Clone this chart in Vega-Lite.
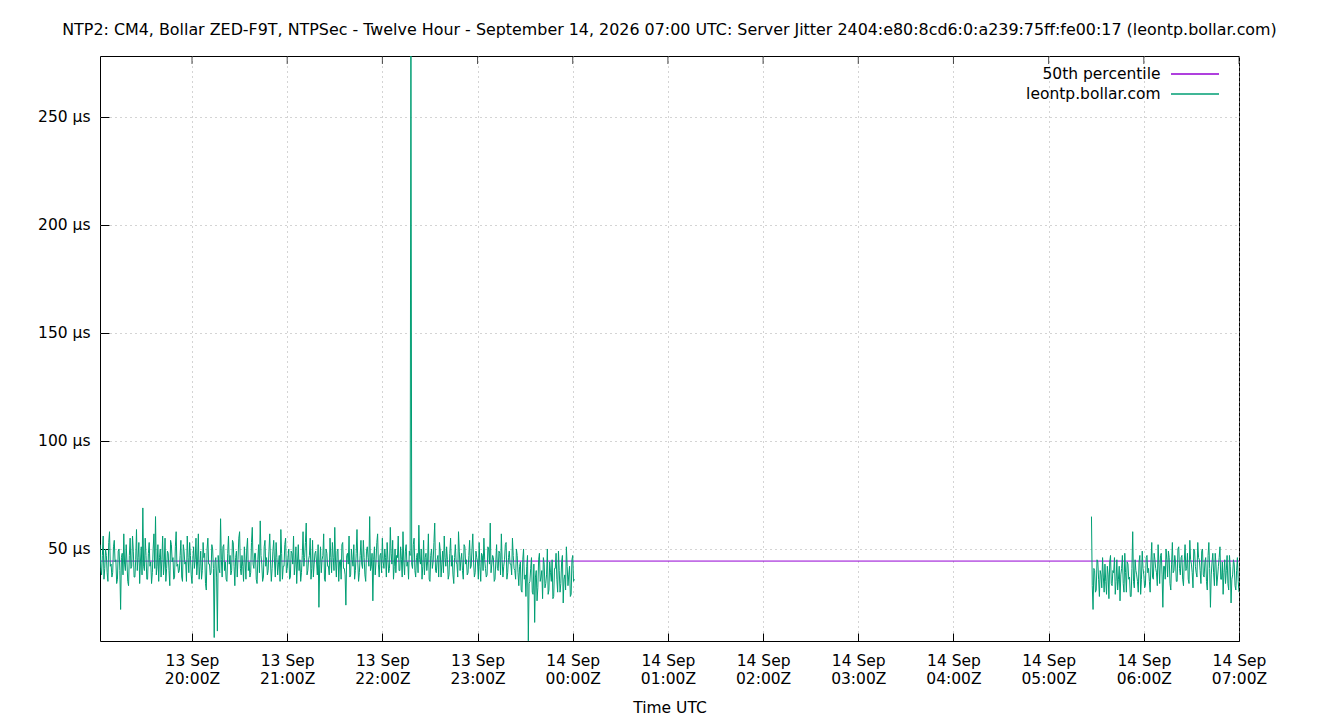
{
  "$schema": "https://vega.github.io/schema/vega-lite/v6.json",
  "width": 1139,
  "height": 585,
  "autosize": "none",
  "padding": {"left": 100, "top": 56, "right": 101, "bottom": 79},
  "background": "white",
  "title": {
    "text": "NTP2: CM4, Bollar ZED-F9T, NTPSec - Twelve Hour - September 14, 2026 07:00 UTC: Server Jitter 2404:e80:8cd6:0:a239:75ff:fe00:17 (leontp.bollar.com)",
    "font": "DejaVu Sans", "fontSize": 15.9, "fontWeight": "normal", "color": "black",
    "anchor": "middle", "offset": 18
  },
  "data": {
    "values": [
      {"s":"50th percentile","g":0,"t":"2026-09-13T19:02:00Z","v":44.4},{"s":"50th percentile","g":0,"t":"2026-09-14T07:00:00Z","v":44.4},
      {"s":"leontp.bollar.com","g":1,"t":"2026-09-13T19:02:00Z","v":52},{"s":"leontp.bollar.com","g":1,"t":"2026-09-13T19:02:30Z","v":41},{"s":"leontp.bollar.com","g":1,"t":"2026-09-13T19:03:00Z","v":38},{"s":"leontp.bollar.com","g":1,"t":"2026-09-13T19:03:30Z","v":47},
      {"s":"leontp.bollar.com","g":1,"t":"2026-09-13T19:04:00Z","v":56},{"s":"leontp.bollar.com","g":1,"t":"2026-09-13T19:04:30Z","v":36},{"s":"leontp.bollar.com","g":1,"t":"2026-09-13T19:05:00Z","v":41},{"s":"leontp.bollar.com","g":1,"t":"2026-09-13T19:05:30Z","v":50},
      {"s":"leontp.bollar.com","g":1,"t":"2026-09-13T19:06:00Z","v":47},{"s":"leontp.bollar.com","g":1,"t":"2026-09-13T19:06:30Z","v":39},{"s":"leontp.bollar.com","g":1,"t":"2026-09-13T19:07:00Z","v":35},{"s":"leontp.bollar.com","g":1,"t":"2026-09-13T19:07:30Z","v":53},
      {"s":"leontp.bollar.com","g":1,"t":"2026-09-13T19:08:00Z","v":58},{"s":"leontp.bollar.com","g":1,"t":"2026-09-13T19:08:30Z","v":42},{"s":"leontp.bollar.com","g":1,"t":"2026-09-13T19:09:00Z","v":43},{"s":"leontp.bollar.com","g":1,"t":"2026-09-13T19:09:30Z","v":37},
      {"s":"leontp.bollar.com","g":1,"t":"2026-09-13T19:10:00Z","v":39},{"s":"leontp.bollar.com","g":1,"t":"2026-09-13T19:10:30Z","v":51},{"s":"leontp.bollar.com","g":1,"t":"2026-09-13T19:11:00Z","v":54},{"s":"leontp.bollar.com","g":1,"t":"2026-09-13T19:11:30Z","v":44},
      {"s":"leontp.bollar.com","g":1,"t":"2026-09-13T19:12:00Z","v":45},{"s":"leontp.bollar.com","g":1,"t":"2026-09-13T19:12:30Z","v":34},{"s":"leontp.bollar.com","g":1,"t":"2026-09-13T19:13:00Z","v":36},{"s":"leontp.bollar.com","g":1,"t":"2026-09-13T19:13:30Z","v":49},
      {"s":"leontp.bollar.com","g":1,"t":"2026-09-13T19:14:00Z","v":50},{"s":"leontp.bollar.com","g":1,"t":"2026-09-13T19:14:30Z","v":40},{"s":"leontp.bollar.com","g":1,"t":"2026-09-13T19:15:00Z","v":22},{"s":"leontp.bollar.com","g":1,"t":"2026-09-13T19:15:30Z","v":46},
      {"s":"leontp.bollar.com","g":1,"t":"2026-09-13T19:16:00Z","v":48},{"s":"leontp.bollar.com","g":1,"t":"2026-09-13T19:16:30Z","v":38},{"s":"leontp.bollar.com","g":1,"t":"2026-09-13T19:17:00Z","v":57},{"s":"leontp.bollar.com","g":1,"t":"2026-09-13T19:17:30Z","v":43},
      {"s":"leontp.bollar.com","g":1,"t":"2026-09-13T19:18:00Z","v":40},{"s":"leontp.bollar.com","g":1,"t":"2026-09-13T19:18:30Z","v":52},{"s":"leontp.bollar.com","g":1,"t":"2026-09-13T19:19:00Z","v":44},{"s":"leontp.bollar.com","g":1,"t":"2026-09-13T19:19:30Z","v":35},
      {"s":"leontp.bollar.com","g":1,"t":"2026-09-13T19:20:00Z","v":33},{"s":"leontp.bollar.com","g":1,"t":"2026-09-13T19:20:30Z","v":47},{"s":"leontp.bollar.com","g":1,"t":"2026-09-13T19:21:00Z","v":55},{"s":"leontp.bollar.com","g":1,"t":"2026-09-13T19:21:30Z","v":41},
      {"s":"leontp.bollar.com","g":1,"t":"2026-09-13T19:22:00Z","v":42},{"s":"leontp.bollar.com","g":1,"t":"2026-09-13T19:22:30Z","v":56},{"s":"leontp.bollar.com","g":1,"t":"2026-09-13T19:23:00Z","v":49},{"s":"leontp.bollar.com","g":1,"t":"2026-09-13T19:23:30Z","v":37},
      {"s":"leontp.bollar.com","g":1,"t":"2026-09-13T19:24:00Z","v":37},{"s":"leontp.bollar.com","g":1,"t":"2026-09-13T19:24:30Z","v":45},{"s":"leontp.bollar.com","g":1,"t":"2026-09-13T19:25:00Z","v":59},{"s":"leontp.bollar.com","g":1,"t":"2026-09-13T19:25:30Z","v":40},
      {"s":"leontp.bollar.com","g":1,"t":"2026-09-13T19:26:00Z","v":46},{"s":"leontp.bollar.com","g":1,"t":"2026-09-13T19:26:30Z","v":53},{"s":"leontp.bollar.com","g":1,"t":"2026-09-13T19:27:00Z","v":34},{"s":"leontp.bollar.com","g":1,"t":"2026-09-13T19:27:30Z","v":44},
      {"s":"leontp.bollar.com","g":1,"t":"2026-09-13T19:28:00Z","v":51},{"s":"leontp.bollar.com","g":1,"t":"2026-09-13T19:28:30Z","v":38},{"s":"leontp.bollar.com","g":1,"t":"2026-09-13T19:29:00Z","v":69},{"s":"leontp.bollar.com","g":1,"t":"2026-09-13T19:29:30Z","v":42},
      {"s":"leontp.bollar.com","g":1,"t":"2026-09-13T19:30:00Z","v":40},{"s":"leontp.bollar.com","g":1,"t":"2026-09-13T19:30:30Z","v":55},{"s":"leontp.bollar.com","g":1,"t":"2026-09-13T19:31:00Z","v":47},{"s":"leontp.bollar.com","g":1,"t":"2026-09-13T19:31:30Z","v":36},
      {"s":"leontp.bollar.com","g":1,"t":"2026-09-13T19:32:00Z","v":36},{"s":"leontp.bollar.com","g":1,"t":"2026-09-13T19:32:30Z","v":48},{"s":"leontp.bollar.com","g":1,"t":"2026-09-13T19:33:00Z","v":53},{"s":"leontp.bollar.com","g":1,"t":"2026-09-13T19:33:30Z","v":42},
      {"s":"leontp.bollar.com","g":1,"t":"2026-09-13T19:34:00Z","v":44},{"s":"leontp.bollar.com","g":1,"t":"2026-09-13T19:34:30Z","v":34},{"s":"leontp.bollar.com","g":1,"t":"2026-09-13T19:35:00Z","v":39},{"s":"leontp.bollar.com","g":1,"t":"2026-09-13T19:35:30Z","v":50},
      {"s":"leontp.bollar.com","g":1,"t":"2026-09-13T19:36:00Z","v":57},{"s":"leontp.bollar.com","g":1,"t":"2026-09-13T19:36:30Z","v":41},{"s":"leontp.bollar.com","g":1,"t":"2026-09-13T19:37:00Z","v":65},{"s":"leontp.bollar.com","g":1,"t":"2026-09-13T19:37:30Z","v":38},
      {"s":"leontp.bollar.com","g":1,"t":"2026-09-13T19:38:00Z","v":42},{"s":"leontp.bollar.com","g":1,"t":"2026-09-13T19:38:30Z","v":52},{"s":"leontp.bollar.com","g":1,"t":"2026-09-13T19:39:00Z","v":35},{"s":"leontp.bollar.com","g":1,"t":"2026-09-13T19:39:30Z","v":46},
      {"s":"leontp.bollar.com","g":1,"t":"2026-09-13T19:40:00Z","v":50},{"s":"leontp.bollar.com","g":1,"t":"2026-09-13T19:40:30Z","v":37},{"s":"leontp.bollar.com","g":1,"t":"2026-09-13T19:41:00Z","v":45},{"s":"leontp.bollar.com","g":1,"t":"2026-09-13T19:41:30Z","v":56},
      {"s":"leontp.bollar.com","g":1,"t":"2026-09-13T19:42:00Z","v":38},{"s":"leontp.bollar.com","g":1,"t":"2026-09-13T19:42:30Z","v":43},{"s":"leontp.bollar.com","g":1,"t":"2026-09-13T19:43:00Z","v":55},{"s":"leontp.bollar.com","g":1,"t":"2026-09-13T19:43:30Z","v":35},
      {"s":"leontp.bollar.com","g":1,"t":"2026-09-13T19:44:00Z","v":41},{"s":"leontp.bollar.com","g":1,"t":"2026-09-13T19:44:30Z","v":49},{"s":"leontp.bollar.com","g":1,"t":"2026-09-13T19:45:00Z","v":48},{"s":"leontp.bollar.com","g":1,"t":"2026-09-13T19:45:30Z","v":40},
      {"s":"leontp.bollar.com","g":1,"t":"2026-09-13T19:46:00Z","v":33},{"s":"leontp.bollar.com","g":1,"t":"2026-09-13T19:46:30Z","v":54},{"s":"leontp.bollar.com","g":1,"t":"2026-09-13T19:47:00Z","v":52},{"s":"leontp.bollar.com","g":1,"t":"2026-09-13T19:47:30Z","v":44},
      {"s":"leontp.bollar.com","g":1,"t":"2026-09-13T19:48:00Z","v":46},{"s":"leontp.bollar.com","g":1,"t":"2026-09-13T19:48:30Z","v":36},{"s":"leontp.bollar.com","g":1,"t":"2026-09-13T19:49:00Z","v":37},{"s":"leontp.bollar.com","g":1,"t":"2026-09-13T19:49:30Z","v":51},
      {"s":"leontp.bollar.com","g":1,"t":"2026-09-13T19:50:00Z","v":58},{"s":"leontp.bollar.com","g":1,"t":"2026-09-13T19:50:30Z","v":42},{"s":"leontp.bollar.com","g":1,"t":"2026-09-13T19:51:00Z","v":43},{"s":"leontp.bollar.com","g":1,"t":"2026-09-13T19:51:30Z","v":39},
      {"s":"leontp.bollar.com","g":1,"t":"2026-09-13T19:52:00Z","v":40},{"s":"leontp.bollar.com","g":1,"t":"2026-09-13T19:52:30Z","v":47},{"s":"leontp.bollar.com","g":1,"t":"2026-09-13T19:53:00Z","v":54},{"s":"leontp.bollar.com","g":1,"t":"2026-09-13T19:53:30Z","v":37},
      {"s":"leontp.bollar.com","g":1,"t":"2026-09-13T19:54:00Z","v":35},{"s":"leontp.bollar.com","g":1,"t":"2026-09-13T19:54:30Z","v":52},{"s":"leontp.bollar.com","g":1,"t":"2026-09-13T19:55:00Z","v":49},{"s":"leontp.bollar.com","g":1,"t":"2026-09-13T19:55:30Z","v":43},
      {"s":"leontp.bollar.com","g":1,"t":"2026-09-13T19:56:00Z","v":44},{"s":"leontp.bollar.com","g":1,"t":"2026-09-13T19:56:30Z","v":35},{"s":"leontp.bollar.com","g":1,"t":"2026-09-13T19:57:00Z","v":56},{"s":"leontp.bollar.com","g":1,"t":"2026-09-13T19:57:30Z","v":46},
      {"s":"leontp.bollar.com","g":1,"t":"2026-09-13T19:58:00Z","v":39},{"s":"leontp.bollar.com","g":1,"t":"2026-09-13T19:58:30Z","v":53},{"s":"leontp.bollar.com","g":1,"t":"2026-09-13T19:59:00Z","v":47},{"s":"leontp.bollar.com","g":1,"t":"2026-09-13T19:59:30Z","v":38},
      {"s":"leontp.bollar.com","g":1,"t":"2026-09-13T20:00:00Z","v":34},{"s":"leontp.bollar.com","g":1,"t":"2026-09-13T20:00:30Z","v":45},{"s":"leontp.bollar.com","g":1,"t":"2026-09-13T20:01:00Z","v":51},{"s":"leontp.bollar.com","g":1,"t":"2026-09-13T20:01:30Z","v":41},
      {"s":"leontp.bollar.com","g":1,"t":"2026-09-13T20:02:00Z","v":45},{"s":"leontp.bollar.com","g":1,"t":"2026-09-13T20:02:30Z","v":55},{"s":"leontp.bollar.com","g":1,"t":"2026-09-13T20:03:00Z","v":38},{"s":"leontp.bollar.com","g":1,"t":"2026-09-13T20:03:30Z","v":44},
      {"s":"leontp.bollar.com","g":1,"t":"2026-09-13T20:04:00Z","v":57},{"s":"leontp.bollar.com","g":1,"t":"2026-09-13T20:04:30Z","v":36},{"s":"leontp.bollar.com","g":1,"t":"2026-09-13T20:05:00Z","v":42},{"s":"leontp.bollar.com","g":1,"t":"2026-09-13T20:05:30Z","v":49},
      {"s":"leontp.bollar.com","g":1,"t":"2026-09-13T20:06:00Z","v":36},{"s":"leontp.bollar.com","g":1,"t":"2026-09-13T20:06:30Z","v":40},{"s":"leontp.bollar.com","g":1,"t":"2026-09-13T20:07:00Z","v":53},{"s":"leontp.bollar.com","g":1,"t":"2026-09-13T20:07:30Z","v":46},
      {"s":"leontp.bollar.com","g":1,"t":"2026-09-13T20:08:00Z","v":48},{"s":"leontp.bollar.com","g":1,"t":"2026-09-13T20:08:30Z","v":34},{"s":"leontp.bollar.com","g":1,"t":"2026-09-13T20:09:00Z","v":31},{"s":"leontp.bollar.com","g":1,"t":"2026-09-13T20:09:30Z","v":50},
      {"s":"leontp.bollar.com","g":1,"t":"2026-09-13T20:10:00Z","v":55},{"s":"leontp.bollar.com","g":1,"t":"2026-09-13T20:10:30Z","v":43},{"s":"leontp.bollar.com","g":1,"t":"2026-09-13T20:11:00Z","v":43},{"s":"leontp.bollar.com","g":1,"t":"2026-09-13T20:11:30Z","v":38},
      {"s":"leontp.bollar.com","g":1,"t":"2026-09-13T20:12:00Z","v":39},{"s":"leontp.bollar.com","g":1,"t":"2026-09-13T20:12:30Z","v":52},{"s":"leontp.bollar.com","g":1,"t":"2026-09-13T20:13:00Z","v":50},{"s":"leontp.bollar.com","g":1,"t":"2026-09-13T20:13:30Z","v":41},
      {"s":"leontp.bollar.com","g":1,"t":"2026-09-13T20:14:00Z","v":9},{"s":"leontp.bollar.com","g":1,"t":"2026-09-13T20:14:30Z","v":44},{"s":"leontp.bollar.com","g":1,"t":"2026-09-13T20:15:00Z","v":46},{"s":"leontp.bollar.com","g":1,"t":"2026-09-13T20:15:30Z","v":37},
      {"s":"leontp.bollar.com","g":1,"t":"2026-09-13T20:16:00Z","v":12},{"s":"leontp.bollar.com","g":1,"t":"2026-09-13T20:16:30Z","v":47},{"s":"leontp.bollar.com","g":1,"t":"2026-09-13T20:17:00Z","v":41},{"s":"leontp.bollar.com","g":1,"t":"2026-09-13T20:17:30Z","v":39},
      {"s":"leontp.bollar.com","g":1,"t":"2026-09-13T20:18:00Z","v":64},{"s":"leontp.bollar.com","g":1,"t":"2026-09-13T20:18:30Z","v":45},{"s":"leontp.bollar.com","g":1,"t":"2026-09-13T20:19:00Z","v":37},{"s":"leontp.bollar.com","g":1,"t":"2026-09-13T20:19:30Z","v":51},
      {"s":"leontp.bollar.com","g":1,"t":"2026-09-13T20:20:00Z","v":52},{"s":"leontp.bollar.com","g":1,"t":"2026-09-13T20:20:30Z","v":40},{"s":"leontp.bollar.com","g":1,"t":"2026-09-13T20:21:00Z","v":44},{"s":"leontp.bollar.com","g":1,"t":"2026-09-13T20:21:30Z","v":36},
      {"s":"leontp.bollar.com","g":1,"t":"2026-09-13T20:22:00Z","v":35},{"s":"leontp.bollar.com","g":1,"t":"2026-09-13T20:22:30Z","v":48},{"s":"leontp.bollar.com","g":1,"t":"2026-09-13T20:23:00Z","v":56},{"s":"leontp.bollar.com","g":1,"t":"2026-09-13T20:23:30Z","v":43},
      {"s":"leontp.bollar.com","g":1,"t":"2026-09-13T20:24:00Z","v":47},{"s":"leontp.bollar.com","g":1,"t":"2026-09-13T20:24:30Z","v":38},{"s":"leontp.bollar.com","g":1,"t":"2026-09-13T20:25:00Z","v":40},{"s":"leontp.bollar.com","g":1,"t":"2026-09-13T20:25:30Z","v":54},
      {"s":"leontp.bollar.com","g":1,"t":"2026-09-13T20:26:00Z","v":53},{"s":"leontp.bollar.com","g":1,"t":"2026-09-13T20:26:30Z","v":42},{"s":"leontp.bollar.com","g":1,"t":"2026-09-13T20:27:00Z","v":33},{"s":"leontp.bollar.com","g":1,"t":"2026-09-13T20:27:30Z","v":46},
      {"s":"leontp.bollar.com","g":1,"t":"2026-09-13T20:28:00Z","v":49},{"s":"leontp.bollar.com","g":1,"t":"2026-09-13T20:28:30Z","v":37},{"s":"leontp.bollar.com","g":1,"t":"2026-09-13T20:29:00Z","v":45},{"s":"leontp.bollar.com","g":1,"t":"2026-09-13T20:29:30Z","v":55},
      {"s":"leontp.bollar.com","g":1,"t":"2026-09-13T20:30:00Z","v":58},{"s":"leontp.bollar.com","g":1,"t":"2026-09-13T20:30:30Z","v":41},{"s":"leontp.bollar.com","g":1,"t":"2026-09-13T20:31:00Z","v":38},{"s":"leontp.bollar.com","g":1,"t":"2026-09-13T20:31:30Z","v":47},
      {"s":"leontp.bollar.com","g":1,"t":"2026-09-13T20:32:00Z","v":42},{"s":"leontp.bollar.com","g":1,"t":"2026-09-13T20:32:30Z","v":35},{"s":"leontp.bollar.com","g":1,"t":"2026-09-13T20:33:00Z","v":51},{"s":"leontp.bollar.com","g":1,"t":"2026-09-13T20:33:30Z","v":44},
      {"s":"leontp.bollar.com","g":1,"t":"2026-09-13T20:34:00Z","v":36},{"s":"leontp.bollar.com","g":1,"t":"2026-09-13T20:34:30Z","v":50},{"s":"leontp.bollar.com","g":1,"t":"2026-09-13T20:35:00Z","v":55},{"s":"leontp.bollar.com","g":1,"t":"2026-09-13T20:35:30Z","v":40},
      {"s":"leontp.bollar.com","g":1,"t":"2026-09-13T20:36:00Z","v":44},{"s":"leontp.bollar.com","g":1,"t":"2026-09-13T20:36:30Z","v":37},{"s":"leontp.bollar.com","g":1,"t":"2026-09-13T20:37:00Z","v":39},{"s":"leontp.bollar.com","g":1,"t":"2026-09-13T20:37:30Z","v":53},
      {"s":"leontp.bollar.com","g":1,"t":"2026-09-13T20:38:00Z","v":60},{"s":"leontp.bollar.com","g":1,"t":"2026-09-13T20:38:30Z","v":43},{"s":"leontp.bollar.com","g":1,"t":"2026-09-13T20:39:00Z","v":41},{"s":"leontp.bollar.com","g":1,"t":"2026-09-13T20:39:30Z","v":48},
      {"s":"leontp.bollar.com","g":1,"t":"2026-09-13T20:40:00Z","v":48},{"s":"leontp.bollar.com","g":1,"t":"2026-09-13T20:40:30Z","v":36},{"s":"leontp.bollar.com","g":1,"t":"2026-09-13T20:41:00Z","v":34},{"s":"leontp.bollar.com","g":1,"t":"2026-09-13T20:41:30Z","v":45},
      {"s":"leontp.bollar.com","g":1,"t":"2026-09-13T20:42:00Z","v":52},{"s":"leontp.bollar.com","g":1,"t":"2026-09-13T20:42:30Z","v":39},{"s":"leontp.bollar.com","g":1,"t":"2026-09-13T20:43:00Z","v":63},{"s":"leontp.bollar.com","g":1,"t":"2026-09-13T20:43:30Z","v":47},
      {"s":"leontp.bollar.com","g":1,"t":"2026-09-13T20:44:00Z","v":43},{"s":"leontp.bollar.com","g":1,"t":"2026-09-13T20:44:30Z","v":35},{"s":"leontp.bollar.com","g":1,"t":"2026-09-13T20:45:00Z","v":37},{"s":"leontp.bollar.com","g":1,"t":"2026-09-13T20:45:30Z","v":51},
      {"s":"leontp.bollar.com","g":1,"t":"2026-09-13T20:46:00Z","v":54},{"s":"leontp.bollar.com","g":1,"t":"2026-09-13T20:46:30Z","v":42},{"s":"leontp.bollar.com","g":1,"t":"2026-09-13T20:47:00Z","v":46},{"s":"leontp.bollar.com","g":1,"t":"2026-09-13T20:47:30Z","v":38},
      {"s":"leontp.bollar.com","g":1,"t":"2026-09-13T20:48:00Z","v":40},{"s":"leontp.bollar.com","g":1,"t":"2026-09-13T20:48:30Z","v":49},{"s":"leontp.bollar.com","g":1,"t":"2026-09-13T20:49:00Z","v":57},{"s":"leontp.bollar.com","g":1,"t":"2026-09-13T20:49:30Z","v":44},
      {"s":"leontp.bollar.com","g":1,"t":"2026-09-13T20:50:00Z","v":35},{"s":"leontp.bollar.com","g":1,"t":"2026-09-13T20:50:30Z","v":41},{"s":"leontp.bollar.com","g":1,"t":"2026-09-13T20:51:00Z","v":49},{"s":"leontp.bollar.com","g":1,"t":"2026-09-13T20:51:30Z","v":54},
      {"s":"leontp.bollar.com","g":1,"t":"2026-09-13T20:52:00Z","v":44},{"s":"leontp.bollar.com","g":1,"t":"2026-09-13T20:52:30Z","v":37},{"s":"leontp.bollar.com","g":1,"t":"2026-09-13T20:53:00Z","v":53},{"s":"leontp.bollar.com","g":1,"t":"2026-09-13T20:53:30Z","v":46},
      {"s":"leontp.bollar.com","g":1,"t":"2026-09-13T20:54:00Z","v":38},{"s":"leontp.bollar.com","g":1,"t":"2026-09-13T20:54:30Z","v":43},{"s":"leontp.bollar.com","g":1,"t":"2026-09-13T20:55:00Z","v":47},{"s":"leontp.bollar.com","g":1,"t":"2026-09-13T20:55:30Z","v":35},
      {"s":"leontp.bollar.com","g":1,"t":"2026-09-13T20:56:00Z","v":59},{"s":"leontp.bollar.com","g":1,"t":"2026-09-13T20:56:30Z","v":48},{"s":"leontp.bollar.com","g":1,"t":"2026-09-13T20:57:00Z","v":36},{"s":"leontp.bollar.com","g":1,"t":"2026-09-13T20:57:30Z","v":42},
      {"s":"leontp.bollar.com","g":1,"t":"2026-09-13T20:58:00Z","v":42},{"s":"leontp.bollar.com","g":1,"t":"2026-09-13T20:58:30Z","v":52},{"s":"leontp.bollar.com","g":1,"t":"2026-09-13T20:59:00Z","v":55},{"s":"leontp.bollar.com","g":1,"t":"2026-09-13T20:59:30Z","v":39},
      {"s":"leontp.bollar.com","g":1,"t":"2026-09-13T21:00:00Z","v":41},{"s":"leontp.bollar.com","g":1,"t":"2026-09-13T21:00:30Z","v":46},{"s":"leontp.bollar.com","g":1,"t":"2026-09-13T21:01:00Z","v":50},{"s":"leontp.bollar.com","g":1,"t":"2026-09-13T21:01:30Z","v":36},
      {"s":"leontp.bollar.com","g":1,"t":"2026-09-13T21:02:00Z","v":37},{"s":"leontp.bollar.com","g":1,"t":"2026-09-13T21:02:30Z","v":49},{"s":"leontp.bollar.com","g":1,"t":"2026-09-13T21:03:00Z","v":48},{"s":"leontp.bollar.com","g":1,"t":"2026-09-13T21:03:30Z","v":43},
      {"s":"leontp.bollar.com","g":1,"t":"2026-09-13T21:04:00Z","v":56},{"s":"leontp.bollar.com","g":1,"t":"2026-09-13T21:04:30Z","v":38},{"s":"leontp.bollar.com","g":1,"t":"2026-09-13T21:05:00Z","v":43},{"s":"leontp.bollar.com","g":1,"t":"2026-09-13T21:05:30Z","v":51},
      {"s":"leontp.bollar.com","g":1,"t":"2026-09-13T21:06:00Z","v":34},{"s":"leontp.bollar.com","g":1,"t":"2026-09-13T21:06:30Z","v":44},{"s":"leontp.bollar.com","g":1,"t":"2026-09-13T21:07:00Z","v":52},{"s":"leontp.bollar.com","g":1,"t":"2026-09-13T21:07:30Z","v":40},
      {"s":"leontp.bollar.com","g":1,"t":"2026-09-13T21:08:00Z","v":45},{"s":"leontp.bollar.com","g":1,"t":"2026-09-13T21:08:30Z","v":35},{"s":"leontp.bollar.com","g":1,"t":"2026-09-13T21:09:00Z","v":39},{"s":"leontp.bollar.com","g":1,"t":"2026-09-13T21:09:30Z","v":47},
      {"s":"leontp.bollar.com","g":1,"t":"2026-09-13T21:10:00Z","v":58},{"s":"leontp.bollar.com","g":1,"t":"2026-09-13T21:10:30Z","v":42},{"s":"leontp.bollar.com","g":1,"t":"2026-09-13T21:11:00Z","v":46},{"s":"leontp.bollar.com","g":1,"t":"2026-09-13T21:11:30Z","v":53},
      {"s":"leontp.bollar.com","g":1,"t":"2026-09-13T21:12:00Z","v":62},{"s":"leontp.bollar.com","g":1,"t":"2026-09-13T21:12:30Z","v":38},{"s":"leontp.bollar.com","g":1,"t":"2026-09-13T21:13:00Z","v":40},{"s":"leontp.bollar.com","g":1,"t":"2026-09-13T21:13:30Z","v":45},
      {"s":"leontp.bollar.com","g":1,"t":"2026-09-13T21:14:00Z","v":47},{"s":"leontp.bollar.com","g":1,"t":"2026-09-13T21:14:30Z","v":55},{"s":"leontp.bollar.com","g":1,"t":"2026-09-13T21:15:00Z","v":36},{"s":"leontp.bollar.com","g":1,"t":"2026-09-13T21:15:30Z","v":41},
      {"s":"leontp.bollar.com","g":1,"t":"2026-09-13T21:16:00Z","v":54},{"s":"leontp.bollar.com","g":1,"t":"2026-09-13T21:16:30Z","v":37},{"s":"leontp.bollar.com","g":1,"t":"2026-09-13T21:17:00Z","v":43},{"s":"leontp.bollar.com","g":1,"t":"2026-09-13T21:17:30Z","v":48},
      {"s":"leontp.bollar.com","g":1,"t":"2026-09-13T21:18:00Z","v":49},{"s":"leontp.bollar.com","g":1,"t":"2026-09-13T21:18:30Z","v":44},{"s":"leontp.bollar.com","g":1,"t":"2026-09-13T21:19:00Z","v":38},{"s":"leontp.bollar.com","g":1,"t":"2026-09-13T21:19:30Z","v":52},
      {"s":"leontp.bollar.com","g":1,"t":"2026-09-13T21:20:00Z","v":23},{"s":"leontp.bollar.com","g":1,"t":"2026-09-13T21:20:30Z","v":43},{"s":"leontp.bollar.com","g":1,"t":"2026-09-13T21:21:00Z","v":51},{"s":"leontp.bollar.com","g":1,"t":"2026-09-13T21:21:30Z","v":39},
      {"s":"leontp.bollar.com","g":1,"t":"2026-09-13T21:22:00Z","v":45},{"s":"leontp.bollar.com","g":1,"t":"2026-09-13T21:22:30Z","v":47},{"s":"leontp.bollar.com","g":1,"t":"2026-09-13T21:23:00Z","v":57},{"s":"leontp.bollar.com","g":1,"t":"2026-09-13T21:23:30Z","v":36},
      {"s":"leontp.bollar.com","g":1,"t":"2026-09-13T21:24:00Z","v":35},{"s":"leontp.bollar.com","g":1,"t":"2026-09-13T21:24:30Z","v":50},{"s":"leontp.bollar.com","g":1,"t":"2026-09-13T21:25:00Z","v":48},{"s":"leontp.bollar.com","g":1,"t":"2026-09-13T21:25:30Z","v":42},
      {"s":"leontp.bollar.com","g":1,"t":"2026-09-13T21:26:00Z","v":42},{"s":"leontp.bollar.com","g":1,"t":"2026-09-13T21:26:30Z","v":38},{"s":"leontp.bollar.com","g":1,"t":"2026-09-13T21:27:00Z","v":55},{"s":"leontp.bollar.com","g":1,"t":"2026-09-13T21:27:30Z","v":46},
      {"s":"leontp.bollar.com","g":1,"t":"2026-09-13T21:28:00Z","v":39},{"s":"leontp.bollar.com","g":1,"t":"2026-09-13T21:28:30Z","v":53},{"s":"leontp.bollar.com","g":1,"t":"2026-09-13T21:29:00Z","v":46},{"s":"leontp.bollar.com","g":1,"t":"2026-09-13T21:29:30Z","v":40},
      {"s":"leontp.bollar.com","g":1,"t":"2026-09-13T21:30:00Z","v":60},{"s":"leontp.bollar.com","g":1,"t":"2026-09-13T21:30:30Z","v":44},{"s":"leontp.bollar.com","g":1,"t":"2026-09-13T21:31:00Z","v":37},{"s":"leontp.bollar.com","g":1,"t":"2026-09-13T21:31:30Z","v":49},
      {"s":"leontp.bollar.com","g":1,"t":"2026-09-13T21:32:00Z","v":50},{"s":"leontp.bollar.com","g":1,"t":"2026-09-13T21:32:30Z","v":35},{"s":"leontp.bollar.com","g":1,"t":"2026-09-13T21:33:00Z","v":44},{"s":"leontp.bollar.com","g":1,"t":"2026-09-13T21:33:30Z","v":45},
      {"s":"leontp.bollar.com","g":1,"t":"2026-09-13T21:34:00Z","v":36},{"s":"leontp.bollar.com","g":1,"t":"2026-09-13T21:34:30Z","v":52},{"s":"leontp.bollar.com","g":1,"t":"2026-09-13T21:35:00Z","v":53},{"s":"leontp.bollar.com","g":1,"t":"2026-09-13T21:35:30Z","v":41},
      {"s":"leontp.bollar.com","g":1,"t":"2026-09-13T21:36:00Z","v":41},{"s":"leontp.bollar.com","g":1,"t":"2026-09-13T21:36:30Z","v":38},{"s":"leontp.bollar.com","g":1,"t":"2026-09-13T21:37:00Z","v":24},{"s":"leontp.bollar.com","g":1,"t":"2026-09-13T21:37:30Z","v":47},
      {"s":"leontp.bollar.com","g":1,"t":"2026-09-13T21:38:00Z","v":48},{"s":"leontp.bollar.com","g":1,"t":"2026-09-13T21:38:30Z","v":43},{"s":"leontp.bollar.com","g":1,"t":"2026-09-13T21:39:00Z","v":56},{"s":"leontp.bollar.com","g":1,"t":"2026-09-13T21:39:30Z","v":37},
      {"s":"leontp.bollar.com","g":1,"t":"2026-09-13T21:40:00Z","v":38},{"s":"leontp.bollar.com","g":1,"t":"2026-09-13T21:40:30Z","v":50},{"s":"leontp.bollar.com","g":1,"t":"2026-09-13T21:41:00Z","v":45},{"s":"leontp.bollar.com","g":1,"t":"2026-09-13T21:41:30Z","v":42},
      {"s":"leontp.bollar.com","g":1,"t":"2026-09-13T21:42:00Z","v":52},{"s":"leontp.bollar.com","g":1,"t":"2026-09-13T21:42:30Z","v":36},{"s":"leontp.bollar.com","g":1,"t":"2026-09-13T21:43:00Z","v":40},{"s":"leontp.bollar.com","g":1,"t":"2026-09-13T21:43:30Z","v":48},
      {"s":"leontp.bollar.com","g":1,"t":"2026-09-13T21:44:00Z","v":59},{"s":"leontp.bollar.com","g":1,"t":"2026-09-13T21:44:30Z","v":44},{"s":"leontp.bollar.com","g":1,"t":"2026-09-13T21:45:00Z","v":35},{"s":"leontp.bollar.com","g":1,"t":"2026-09-13T21:45:30Z","v":39},
      {"s":"leontp.bollar.com","g":1,"t":"2026-09-13T21:46:00Z","v":47},{"s":"leontp.bollar.com","g":1,"t":"2026-09-13T21:46:30Z","v":54},{"s":"leontp.bollar.com","g":1,"t":"2026-09-13T21:47:00Z","v":43},{"s":"leontp.bollar.com","g":1,"t":"2026-09-13T21:47:30Z","v":41},
      {"s":"leontp.bollar.com","g":1,"t":"2026-09-13T21:48:00Z","v":54},{"s":"leontp.bollar.com","g":1,"t":"2026-09-13T21:48:30Z","v":46},{"s":"leontp.bollar.com","g":1,"t":"2026-09-13T21:49:00Z","v":38},{"s":"leontp.bollar.com","g":1,"t":"2026-09-13T21:49:30Z","v":35},
      {"s":"leontp.bollar.com","g":1,"t":"2026-09-13T21:50:00Z","v":49},{"s":"leontp.bollar.com","g":1,"t":"2026-09-13T21:50:30Z","v":51},{"s":"leontp.bollar.com","g":1,"t":"2026-09-13T21:51:00Z","v":46},{"s":"leontp.bollar.com","g":1,"t":"2026-09-13T21:51:30Z","v":42},
      {"s":"leontp.bollar.com","g":1,"t":"2026-09-13T21:52:00Z","v":65},{"s":"leontp.bollar.com","g":1,"t":"2026-09-13T21:52:30Z","v":40},{"s":"leontp.bollar.com","g":1,"t":"2026-09-13T21:53:00Z","v":42},{"s":"leontp.bollar.com","g":1,"t":"2026-09-13T21:53:30Z","v":48},
      {"s":"leontp.bollar.com","g":1,"t":"2026-09-13T21:54:00Z","v":26},{"s":"leontp.bollar.com","g":1,"t":"2026-09-13T21:54:30Z","v":45},{"s":"leontp.bollar.com","g":1,"t":"2026-09-13T21:55:00Z","v":51},{"s":"leontp.bollar.com","g":1,"t":"2026-09-13T21:55:30Z","v":38},
      {"s":"leontp.bollar.com","g":1,"t":"2026-09-13T21:56:00Z","v":44},{"s":"leontp.bollar.com","g":1,"t":"2026-09-13T21:56:30Z","v":53},{"s":"leontp.bollar.com","g":1,"t":"2026-09-13T21:57:00Z","v":57},{"s":"leontp.bollar.com","g":1,"t":"2026-09-13T21:57:30Z","v":43},
      {"s":"leontp.bollar.com","g":1,"t":"2026-09-13T21:58:00Z","v":37},{"s":"leontp.bollar.com","g":1,"t":"2026-09-13T21:58:30Z","v":47},{"s":"leontp.bollar.com","g":1,"t":"2026-09-13T21:59:00Z","v":48},{"s":"leontp.bollar.com","g":1,"t":"2026-09-13T21:59:30Z","v":39},
      {"s":"leontp.bollar.com","g":1,"t":"2026-09-13T22:00:00Z","v":55},{"s":"leontp.bollar.com","g":1,"t":"2026-09-13T22:00:30Z","v":44},{"s":"leontp.bollar.com","g":1,"t":"2026-09-13T22:01:00Z","v":41},{"s":"leontp.bollar.com","g":1,"t":"2026-09-13T22:01:30Z","v":50},
      {"s":"leontp.bollar.com","g":1,"t":"2026-09-13T22:02:00Z","v":46},{"s":"leontp.bollar.com","g":1,"t":"2026-09-13T22:02:30Z","v":37},{"s":"leontp.bollar.com","g":1,"t":"2026-09-13T22:03:00Z","v":53},{"s":"leontp.bollar.com","g":1,"t":"2026-09-13T22:03:30Z","v":45},
      {"s":"leontp.bollar.com","g":1,"t":"2026-09-13T22:04:00Z","v":39},{"s":"leontp.bollar.com","g":1,"t":"2026-09-13T22:04:30Z","v":41},{"s":"leontp.bollar.com","g":1,"t":"2026-09-13T22:05:00Z","v":60},{"s":"leontp.bollar.com","g":1,"t":"2026-09-13T22:05:30Z","v":48},
      {"s":"leontp.bollar.com","g":1,"t":"2026-09-13T22:06:00Z","v":43},{"s":"leontp.bollar.com","g":1,"t":"2026-09-13T22:06:30Z","v":54},{"s":"leontp.bollar.com","g":1,"t":"2026-09-13T22:07:00Z","v":36},{"s":"leontp.bollar.com","g":1,"t":"2026-09-13T22:07:30Z","v":42},
      {"s":"leontp.bollar.com","g":1,"t":"2026-09-13T22:08:00Z","v":50},{"s":"leontp.bollar.com","g":1,"t":"2026-09-13T22:08:30Z","v":39},{"s":"leontp.bollar.com","g":1,"t":"2026-09-13T22:09:00Z","v":47},{"s":"leontp.bollar.com","g":1,"t":"2026-09-13T22:09:30Z","v":46},
      {"s":"leontp.bollar.com","g":1,"t":"2026-09-13T22:10:00Z","v":56},{"s":"leontp.bollar.com","g":1,"t":"2026-09-13T22:10:30Z","v":40},{"s":"leontp.bollar.com","g":1,"t":"2026-09-13T22:11:00Z","v":40},{"s":"leontp.bollar.com","g":1,"t":"2026-09-13T22:11:30Z","v":51},
      {"s":"leontp.bollar.com","g":1,"t":"2026-09-13T22:12:00Z","v":45},{"s":"leontp.bollar.com","g":1,"t":"2026-09-13T22:12:30Z","v":37},{"s":"leontp.bollar.com","g":1,"t":"2026-09-13T22:13:00Z","v":58},{"s":"leontp.bollar.com","g":1,"t":"2026-09-13T22:13:30Z","v":44},
      {"s":"leontp.bollar.com","g":1,"t":"2026-09-13T22:14:00Z","v":38},{"s":"leontp.bollar.com","g":1,"t":"2026-09-13T22:14:30Z","v":49},{"s":"leontp.bollar.com","g":1,"t":"2026-09-13T22:15:00Z","v":52},{"s":"leontp.bollar.com","g":1,"t":"2026-09-13T22:15:30Z","v":42},
      {"s":"leontp.bollar.com","g":1,"t":"2026-09-13T22:16:00Z","v":44},{"s":"leontp.bollar.com","g":1,"t":"2026-09-13T22:16:30Z","v":36},{"s":"leontp.bollar.com","g":1,"t":"2026-09-13T22:17:00Z","v":49},{"s":"leontp.bollar.com","g":1,"t":"2026-09-13T22:17:30Z","v":47},
      {"s":"leontp.bollar.com","g":1,"t":"2026-09-13T22:18:00Z","v":300},{"s":"leontp.bollar.com","g":1,"t":"2026-09-13T22:18:30Z","v":43},{"s":"leontp.bollar.com","g":1,"t":"2026-09-13T22:19:00Z","v":41},{"s":"leontp.bollar.com","g":1,"t":"2026-09-13T22:19:30Z","v":52},
      {"s":"leontp.bollar.com","g":1,"t":"2026-09-13T22:20:00Z","v":55},{"s":"leontp.bollar.com","g":1,"t":"2026-09-13T22:20:30Z","v":40},{"s":"leontp.bollar.com","g":1,"t":"2026-09-13T22:21:00Z","v":37},{"s":"leontp.bollar.com","g":1,"t":"2026-09-13T22:21:30Z","v":46},
      {"s":"leontp.bollar.com","g":1,"t":"2026-09-13T22:22:00Z","v":48},{"s":"leontp.bollar.com","g":1,"t":"2026-09-13T22:22:30Z","v":39},{"s":"leontp.bollar.com","g":1,"t":"2026-09-13T22:23:00Z","v":61},{"s":"leontp.bollar.com","g":1,"t":"2026-09-13T22:23:30Z","v":45},
      {"s":"leontp.bollar.com","g":1,"t":"2026-09-13T22:24:00Z","v":43},{"s":"leontp.bollar.com","g":1,"t":"2026-09-13T22:24:30Z","v":50},{"s":"leontp.bollar.com","g":1,"t":"2026-09-13T22:25:00Z","v":36},{"s":"leontp.bollar.com","g":1,"t":"2026-09-13T22:25:30Z","v":42},
      {"s":"leontp.bollar.com","g":1,"t":"2026-09-13T22:26:00Z","v":54},{"s":"leontp.bollar.com","g":1,"t":"2026-09-13T22:26:30Z","v":38},{"s":"leontp.bollar.com","g":1,"t":"2026-09-13T22:27:00Z","v":46},{"s":"leontp.bollar.com","g":1,"t":"2026-09-13T22:27:30Z","v":48},
      {"s":"leontp.bollar.com","g":1,"t":"2026-09-13T22:28:00Z","v":40},{"s":"leontp.bollar.com","g":1,"t":"2026-09-13T22:28:30Z","v":44},{"s":"leontp.bollar.com","g":1,"t":"2026-09-13T22:29:00Z","v":57},{"s":"leontp.bollar.com","g":1,"t":"2026-09-13T22:29:30Z","v":36},
      {"s":"leontp.bollar.com","g":1,"t":"2026-09-13T22:30:00Z","v":35},{"s":"leontp.bollar.com","g":1,"t":"2026-09-13T22:30:30Z","v":47},{"s":"leontp.bollar.com","g":1,"t":"2026-09-13T22:31:00Z","v":50},{"s":"leontp.bollar.com","g":1,"t":"2026-09-13T22:31:30Z","v":41},
      {"s":"leontp.bollar.com","g":1,"t":"2026-09-13T22:32:00Z","v":44},{"s":"leontp.bollar.com","g":1,"t":"2026-09-13T22:32:30Z","v":53},{"s":"leontp.bollar.com","g":1,"t":"2026-09-13T22:33:00Z","v":62},{"s":"leontp.bollar.com","g":1,"t":"2026-09-13T22:33:30Z","v":40},
      {"s":"leontp.bollar.com","g":1,"t":"2026-09-13T22:34:00Z","v":39},{"s":"leontp.bollar.com","g":1,"t":"2026-09-13T22:34:30Z","v":45},{"s":"leontp.bollar.com","g":1,"t":"2026-09-13T22:35:00Z","v":47},{"s":"leontp.bollar.com","g":1,"t":"2026-09-13T22:35:30Z","v":37},
      {"s":"leontp.bollar.com","g":1,"t":"2026-09-13T22:36:00Z","v":53},{"s":"leontp.bollar.com","g":1,"t":"2026-09-13T22:36:30Z","v":49},{"s":"leontp.bollar.com","g":1,"t":"2026-09-13T22:37:00Z","v":37},{"s":"leontp.bollar.com","g":1,"t":"2026-09-13T22:37:30Z","v":43},
      {"s":"leontp.bollar.com","g":1,"t":"2026-09-13T22:38:00Z","v":49},{"s":"leontp.bollar.com","g":1,"t":"2026-09-13T22:38:30Z","v":39},{"s":"leontp.bollar.com","g":1,"t":"2026-09-13T22:39:00Z","v":56},{"s":"leontp.bollar.com","g":1,"t":"2026-09-13T22:39:30Z","v":46},
      {"s":"leontp.bollar.com","g":1,"t":"2026-09-13T22:40:00Z","v":42},{"s":"leontp.bollar.com","g":1,"t":"2026-09-13T22:40:30Z","v":51},{"s":"leontp.bollar.com","g":1,"t":"2026-09-13T22:41:00Z","v":45},{"s":"leontp.bollar.com","g":1,"t":"2026-09-13T22:41:30Z","v":36},
      {"s":"leontp.bollar.com","g":1,"t":"2026-09-13T22:42:00Z","v":38},{"s":"leontp.bollar.com","g":1,"t":"2026-09-13T22:42:30Z","v":48},{"s":"leontp.bollar.com","g":1,"t":"2026-09-13T22:43:00Z","v":55},{"s":"leontp.bollar.com","g":1,"t":"2026-09-13T22:43:30Z","v":42},
      {"s":"leontp.bollar.com","g":1,"t":"2026-09-13T22:44:00Z","v":47},{"s":"leontp.bollar.com","g":1,"t":"2026-09-13T22:44:30Z","v":38},{"s":"leontp.bollar.com","g":1,"t":"2026-09-13T22:45:00Z","v":34},{"s":"leontp.bollar.com","g":1,"t":"2026-09-13T22:45:30Z","v":46},
      {"s":"leontp.bollar.com","g":1,"t":"2026-09-13T22:46:00Z","v":52},{"s":"leontp.bollar.com","g":1,"t":"2026-09-13T22:46:30Z","v":44},{"s":"leontp.bollar.com","g":1,"t":"2026-09-13T22:47:00Z","v":43},{"s":"leontp.bollar.com","g":1,"t":"2026-09-13T22:47:30Z","v":37},
      {"s":"leontp.bollar.com","g":1,"t":"2026-09-13T22:48:00Z","v":58},{"s":"leontp.bollar.com","g":1,"t":"2026-09-13T22:48:30Z","v":49},{"s":"leontp.bollar.com","g":1,"t":"2026-09-13T22:49:00Z","v":40},{"s":"leontp.bollar.com","g":1,"t":"2026-09-13T22:49:30Z","v":45},
      {"s":"leontp.bollar.com","g":1,"t":"2026-09-13T22:50:00Z","v":48},{"s":"leontp.bollar.com","g":1,"t":"2026-09-13T22:50:30Z","v":40},{"s":"leontp.bollar.com","g":1,"t":"2026-09-13T22:51:00Z","v":36},{"s":"leontp.bollar.com","g":1,"t":"2026-09-13T22:51:30Z","v":52},
      {"s":"leontp.bollar.com","g":1,"t":"2026-09-13T22:52:00Z","v":51},{"s":"leontp.bollar.com","g":1,"t":"2026-09-13T22:52:30Z","v":43},{"s":"leontp.bollar.com","g":1,"t":"2026-09-13T22:53:00Z","v":45},{"s":"leontp.bollar.com","g":1,"t":"2026-09-13T22:53:30Z","v":38},
      {"s":"leontp.bollar.com","g":1,"t":"2026-09-13T22:54:00Z","v":39},{"s":"leontp.bollar.com","g":1,"t":"2026-09-13T22:54:30Z","v":47},{"s":"leontp.bollar.com","g":1,"t":"2026-09-13T22:55:00Z","v":54},{"s":"leontp.bollar.com","g":1,"t":"2026-09-13T22:55:30Z","v":41},
      {"s":"leontp.bollar.com","g":1,"t":"2026-09-13T22:56:00Z","v":42},{"s":"leontp.bollar.com","g":1,"t":"2026-09-13T22:56:30Z","v":50},{"s":"leontp.bollar.com","g":1,"t":"2026-09-13T22:57:00Z","v":57},{"s":"leontp.bollar.com","g":1,"t":"2026-09-13T22:57:30Z","v":44},
      {"s":"leontp.bollar.com","g":1,"t":"2026-09-13T22:58:00Z","v":37},{"s":"leontp.bollar.com","g":1,"t":"2026-09-13T22:58:30Z","v":39},{"s":"leontp.bollar.com","g":1,"t":"2026-09-13T22:59:00Z","v":49},{"s":"leontp.bollar.com","g":1,"t":"2026-09-13T22:59:30Z","v":46},
      {"s":"leontp.bollar.com","g":1,"t":"2026-09-13T23:00:00Z","v":44},{"s":"leontp.bollar.com","g":1,"t":"2026-09-13T23:00:30Z","v":36},{"s":"leontp.bollar.com","g":1,"t":"2026-09-13T23:01:00Z","v":53},{"s":"leontp.bollar.com","g":1,"t":"2026-09-13T23:01:30Z","v":42},
      {"s":"leontp.bollar.com","g":1,"t":"2026-09-13T23:02:00Z","v":35},{"s":"leontp.bollar.com","g":1,"t":"2026-09-13T23:02:30Z","v":48},{"s":"leontp.bollar.com","g":1,"t":"2026-09-13T23:03:00Z","v":47},{"s":"leontp.bollar.com","g":1,"t":"2026-09-13T23:03:30Z","v":40},
      {"s":"leontp.bollar.com","g":1,"t":"2026-09-13T23:04:00Z","v":55},{"s":"leontp.bollar.com","g":1,"t":"2026-09-13T23:04:30Z","v":45},{"s":"leontp.bollar.com","g":1,"t":"2026-09-13T23:05:00Z","v":41},{"s":"leontp.bollar.com","g":1,"t":"2026-09-13T23:05:30Z","v":37},
      {"s":"leontp.bollar.com","g":1,"t":"2026-09-13T23:06:00Z","v":38},{"s":"leontp.bollar.com","g":1,"t":"2026-09-13T23:06:30Z","v":51},{"s":"leontp.bollar.com","g":1,"t":"2026-09-13T23:07:00Z","v":50},{"s":"leontp.bollar.com","g":1,"t":"2026-09-13T23:07:30Z","v":43},
      {"s":"leontp.bollar.com","g":1,"t":"2026-09-13T23:08:00Z","v":62},{"s":"leontp.bollar.com","g":1,"t":"2026-09-13T23:08:30Z","v":39},{"s":"leontp.bollar.com","g":1,"t":"2026-09-13T23:09:00Z","v":43},{"s":"leontp.bollar.com","g":1,"t":"2026-09-13T23:09:30Z","v":47},
      {"s":"leontp.bollar.com","g":1,"t":"2026-09-13T23:10:00Z","v":46},{"s":"leontp.bollar.com","g":1,"t":"2026-09-13T23:10:30Z","v":35},{"s":"leontp.bollar.com","g":1,"t":"2026-09-13T23:11:00Z","v":36},{"s":"leontp.bollar.com","g":1,"t":"2026-09-13T23:11:30Z","v":44},
      {"s":"leontp.bollar.com","g":1,"t":"2026-09-13T23:12:00Z","v":52},{"s":"leontp.bollar.com","g":1,"t":"2026-09-13T23:12:30Z","v":41},{"s":"leontp.bollar.com","g":1,"t":"2026-09-13T23:13:00Z","v":40},{"s":"leontp.bollar.com","g":1,"t":"2026-09-13T23:13:30Z","v":49},
      {"s":"leontp.bollar.com","g":1,"t":"2026-09-13T23:14:00Z","v":48},{"s":"leontp.bollar.com","g":1,"t":"2026-09-13T23:14:30Z","v":38},{"s":"leontp.bollar.com","g":1,"t":"2026-09-13T23:15:00Z","v":57},{"s":"leontp.bollar.com","g":1,"t":"2026-09-13T23:15:30Z","v":45},
      {"s":"leontp.bollar.com","g":1,"t":"2026-09-13T23:16:00Z","v":37},{"s":"leontp.bollar.com","g":1,"t":"2026-09-13T23:16:30Z","v":42},{"s":"leontp.bollar.com","g":1,"t":"2026-09-13T23:17:00Z","v":45},{"s":"leontp.bollar.com","g":1,"t":"2026-09-13T23:17:30Z","v":52},
      {"s":"leontp.bollar.com","g":1,"t":"2026-09-13T23:18:00Z","v":53},{"s":"leontp.bollar.com","g":1,"t":"2026-09-13T23:18:30Z","v":36},{"s":"leontp.bollar.com","g":1,"t":"2026-09-13T23:19:00Z","v":39},{"s":"leontp.bollar.com","g":1,"t":"2026-09-13T23:19:30Z","v":46},
      {"s":"leontp.bollar.com","g":1,"t":"2026-09-13T23:20:00Z","v":49},{"s":"leontp.bollar.com","g":1,"t":"2026-09-13T23:20:30Z","v":43},{"s":"leontp.bollar.com","g":1,"t":"2026-09-13T23:21:00Z","v":43},{"s":"leontp.bollar.com","g":1,"t":"2026-09-13T23:21:30Z","v":38},
      {"s":"leontp.bollar.com","g":1,"t":"2026-09-13T23:22:00Z","v":55},{"s":"leontp.bollar.com","g":1,"t":"2026-09-13T23:22:30Z","v":47},{"s":"leontp.bollar.com","g":1,"t":"2026-09-13T23:23:00Z","v":41},{"s":"leontp.bollar.com","g":1,"t":"2026-09-13T23:23:30Z","v":40},
      {"s":"leontp.bollar.com","g":1,"t":"2026-09-13T23:24:00Z","v":36},{"s":"leontp.bollar.com","g":1,"t":"2026-09-13T23:24:30Z","v":50},{"s":"leontp.bollar.com","g":1,"t":"2026-09-13T23:25:00Z","v":47},{"s":"leontp.bollar.com","g":1,"t":"2026-09-13T23:25:30Z","v":39},
      {"s":"leontp.bollar.com","g":1,"t":"2026-09-13T23:26:00Z","v":33},{"s":"leontp.bollar.com","g":1,"t":"2026-09-13T23:26:30Z","v":42},{"s":"leontp.bollar.com","g":1,"t":"2026-09-13T23:27:00Z","v":44},{"s":"leontp.bollar.com","g":1,"t":"2026-09-13T23:27:30Z","v":31},
      {"s":"leontp.bollar.com","g":1,"t":"2026-09-13T23:28:00Z","v":30},{"s":"leontp.bollar.com","g":1,"t":"2026-09-13T23:28:30Z","v":45},{"s":"leontp.bollar.com","g":1,"t":"2026-09-13T23:29:00Z","v":50},{"s":"leontp.bollar.com","g":1,"t":"2026-09-13T23:29:30Z","v":36},
      {"s":"leontp.bollar.com","g":1,"t":"2026-09-13T23:30:00Z","v":38},{"s":"leontp.bollar.com","g":1,"t":"2026-09-13T23:30:30Z","v":28},{"s":"leontp.bollar.com","g":1,"t":"2026-09-13T23:31:00Z","v":42},{"s":"leontp.bollar.com","g":1,"t":"2026-09-13T23:31:30Z","v":47},
      {"s":"leontp.bollar.com","g":1,"t":"2026-09-13T23:32:00Z","v":7.5},{"s":"leontp.bollar.com","g":1,"t":"2026-09-13T23:32:30Z","v":34},{"s":"leontp.bollar.com","g":1,"t":"2026-09-13T23:33:00Z","v":35},{"s":"leontp.bollar.com","g":1,"t":"2026-09-13T23:33:30Z","v":41},
      {"s":"leontp.bollar.com","g":1,"t":"2026-09-13T23:34:00Z","v":46},{"s":"leontp.bollar.com","g":1,"t":"2026-09-13T23:34:30Z","v":30},{"s":"leontp.bollar.com","g":1,"t":"2026-09-13T23:35:00Z","v":29},{"s":"leontp.bollar.com","g":1,"t":"2026-09-13T23:35:30Z","v":43},
      {"s":"leontp.bollar.com","g":1,"t":"2026-09-13T23:36:00Z","v":16},{"s":"leontp.bollar.com","g":1,"t":"2026-09-13T23:36:30Z","v":37},{"s":"leontp.bollar.com","g":1,"t":"2026-09-13T23:37:00Z","v":40},{"s":"leontp.bollar.com","g":1,"t":"2026-09-13T23:37:30Z","v":26},
      {"s":"leontp.bollar.com","g":1,"t":"2026-09-13T23:38:00Z","v":32},{"s":"leontp.bollar.com","g":1,"t":"2026-09-13T23:38:30Z","v":45},{"s":"leontp.bollar.com","g":1,"t":"2026-09-13T23:39:00Z","v":48},{"s":"leontp.bollar.com","g":1,"t":"2026-09-13T23:39:30Z","v":35},
      {"s":"leontp.bollar.com","g":1,"t":"2026-09-13T23:40:00Z","v":37},{"s":"leontp.bollar.com","g":1,"t":"2026-09-13T23:40:30Z","v":40},{"s":"leontp.bollar.com","g":1,"t":"2026-09-13T23:41:00Z","v":27},{"s":"leontp.bollar.com","g":1,"t":"2026-09-13T23:41:30Z","v":46},
      {"s":"leontp.bollar.com","g":1,"t":"2026-09-13T23:42:00Z","v":43},{"s":"leontp.bollar.com","g":1,"t":"2026-09-13T23:42:30Z","v":32},{"s":"leontp.bollar.com","g":1,"t":"2026-09-13T23:43:00Z","v":34},{"s":"leontp.bollar.com","g":1,"t":"2026-09-13T23:43:30Z","v":38},
      {"s":"leontp.bollar.com","g":1,"t":"2026-09-13T23:44:00Z","v":50},{"s":"leontp.bollar.com","g":1,"t":"2026-09-13T23:44:30Z","v":29},{"s":"leontp.bollar.com","g":1,"t":"2026-09-13T23:45:00Z","v":31},{"s":"leontp.bollar.com","g":1,"t":"2026-09-13T23:45:30Z","v":44},
      {"s":"leontp.bollar.com","g":1,"t":"2026-09-13T23:46:00Z","v":39},{"s":"leontp.bollar.com","g":1,"t":"2026-09-13T23:46:30Z","v":35},{"s":"leontp.bollar.com","g":1,"t":"2026-09-13T23:47:00Z","v":45},{"s":"leontp.bollar.com","g":1,"t":"2026-09-13T23:47:30Z","v":27},
      {"s":"leontp.bollar.com","g":1,"t":"2026-09-13T23:48:00Z","v":28},{"s":"leontp.bollar.com","g":1,"t":"2026-09-13T23:48:30Z","v":41},{"s":"leontp.bollar.com","g":1,"t":"2026-09-13T23:49:00Z","v":41},{"s":"leontp.bollar.com","g":1,"t":"2026-09-13T23:49:30Z","v":48},
      {"s":"leontp.bollar.com","g":1,"t":"2026-09-13T23:50:00Z","v":36},{"s":"leontp.bollar.com","g":1,"t":"2026-09-13T23:50:30Z","v":30},{"s":"leontp.bollar.com","g":1,"t":"2026-09-13T23:51:00Z","v":49},{"s":"leontp.bollar.com","g":1,"t":"2026-09-13T23:51:30Z","v":40},
      {"s":"leontp.bollar.com","g":1,"t":"2026-09-13T23:52:00Z","v":30},{"s":"leontp.bollar.com","g":1,"t":"2026-09-13T23:52:30Z","v":34},{"s":"leontp.bollar.com","g":1,"t":"2026-09-13T23:53:00Z","v":44},{"s":"leontp.bollar.com","g":1,"t":"2026-09-13T23:53:30Z","v":47},
      {"s":"leontp.bollar.com","g":1,"t":"2026-09-13T23:54:00Z","v":25},{"s":"leontp.bollar.com","g":1,"t":"2026-09-13T23:54:30Z","v":36},{"s":"leontp.bollar.com","g":1,"t":"2026-09-13T23:55:00Z","v":38},{"s":"leontp.bollar.com","g":1,"t":"2026-09-13T23:55:30Z","v":31},
      {"s":"leontp.bollar.com","g":1,"t":"2026-09-13T23:56:00Z","v":51},{"s":"leontp.bollar.com","g":1,"t":"2026-09-13T23:56:30Z","v":42},{"s":"leontp.bollar.com","g":1,"t":"2026-09-13T23:57:00Z","v":33},{"s":"leontp.bollar.com","g":1,"t":"2026-09-13T23:57:30Z","v":38},
      {"s":"leontp.bollar.com","g":1,"t":"2026-09-13T23:58:00Z","v":42},{"s":"leontp.bollar.com","g":1,"t":"2026-09-13T23:58:30Z","v":28},{"s":"leontp.bollar.com","g":1,"t":"2026-09-13T23:59:00Z","v":29},{"s":"leontp.bollar.com","g":1,"t":"2026-09-13T23:59:30Z","v":45},
      {"s":"leontp.bollar.com","g":1,"t":"2026-09-14T00:00:00Z","v":47},{"s":"leontp.bollar.com","g":1,"t":"2026-09-14T00:00:30Z","v":35},{"s":"leontp.bollar.com","g":1,"t":"2026-09-14T00:01:00Z","v":36},
      {"s":"leontp.bollar.com","g":2,"t":"2026-09-14T05:27:00Z","v":65},{"s":"leontp.bollar.com","g":2,"t":"2026-09-14T05:27:30Z","v":33},{"s":"leontp.bollar.com","g":2,"t":"2026-09-14T05:28:00Z","v":22},{"s":"leontp.bollar.com","g":2,"t":"2026-09-14T05:28:30Z","v":41},
      {"s":"leontp.bollar.com","g":2,"t":"2026-09-14T05:29:00Z","v":40},{"s":"leontp.bollar.com","g":2,"t":"2026-09-14T05:29:30Z","v":30},{"s":"leontp.bollar.com","g":2,"t":"2026-09-14T05:30:00Z","v":31},{"s":"leontp.bollar.com","g":2,"t":"2026-09-14T05:30:30Z","v":45},
      {"s":"leontp.bollar.com","g":2,"t":"2026-09-14T05:31:00Z","v":44},{"s":"leontp.bollar.com","g":2,"t":"2026-09-14T05:31:30Z","v":36},{"s":"leontp.bollar.com","g":2,"t":"2026-09-14T05:32:00Z","v":28},{"s":"leontp.bollar.com","g":2,"t":"2026-09-14T05:32:30Z","v":40},
      {"s":"leontp.bollar.com","g":2,"t":"2026-09-14T05:33:00Z","v":38},{"s":"leontp.bollar.com","g":2,"t":"2026-09-14T05:33:30Z","v":32},{"s":"leontp.bollar.com","g":2,"t":"2026-09-14T05:34:00Z","v":46},{"s":"leontp.bollar.com","g":2,"t":"2026-09-14T05:34:30Z","v":37},
      {"s":"leontp.bollar.com","g":2,"t":"2026-09-14T05:35:00Z","v":30},{"s":"leontp.bollar.com","g":2,"t":"2026-09-14T05:35:30Z","v":43},{"s":"leontp.bollar.com","g":2,"t":"2026-09-14T05:36:00Z","v":35},{"s":"leontp.bollar.com","g":2,"t":"2026-09-14T05:36:30Z","v":29},
      {"s":"leontp.bollar.com","g":2,"t":"2026-09-14T05:37:00Z","v":42},{"s":"leontp.bollar.com","g":2,"t":"2026-09-14T05:37:30Z","v":38},{"s":"leontp.bollar.com","g":2,"t":"2026-09-14T05:38:00Z","v":27},{"s":"leontp.bollar.com","g":2,"t":"2026-09-14T05:38:30Z","v":44},
      {"s":"leontp.bollar.com","g":2,"t":"2026-09-14T05:39:00Z","v":47},{"s":"leontp.bollar.com","g":2,"t":"2026-09-14T05:39:30Z","v":34},{"s":"leontp.bollar.com","g":2,"t":"2026-09-14T05:40:00Z","v":33},{"s":"leontp.bollar.com","g":2,"t":"2026-09-14T05:40:30Z","v":40},
      {"s":"leontp.bollar.com","g":2,"t":"2026-09-14T05:41:00Z","v":39},{"s":"leontp.bollar.com","g":2,"t":"2026-09-14T05:41:30Z","v":46},{"s":"leontp.bollar.com","g":2,"t":"2026-09-14T05:42:00Z","v":29},{"s":"leontp.bollar.com","g":2,"t":"2026-09-14T05:42:30Z","v":35},
      {"s":"leontp.bollar.com","g":2,"t":"2026-09-14T05:43:00Z","v":45},{"s":"leontp.bollar.com","g":2,"t":"2026-09-14T05:43:30Z","v":31},{"s":"leontp.bollar.com","g":2,"t":"2026-09-14T05:44:00Z","v":36},{"s":"leontp.bollar.com","g":2,"t":"2026-09-14T05:44:30Z","v":42},
      {"s":"leontp.bollar.com","g":2,"t":"2026-09-14T05:45:00Z","v":26},{"s":"leontp.bollar.com","g":2,"t":"2026-09-14T05:45:30Z","v":38},{"s":"leontp.bollar.com","g":2,"t":"2026-09-14T05:46:00Z","v":41},{"s":"leontp.bollar.com","g":2,"t":"2026-09-14T05:46:30Z","v":47},
      {"s":"leontp.bollar.com","g":2,"t":"2026-09-14T05:47:00Z","v":34},{"s":"leontp.bollar.com","g":2,"t":"2026-09-14T05:47:30Z","v":30},{"s":"leontp.bollar.com","g":2,"t":"2026-09-14T05:48:00Z","v":48},{"s":"leontp.bollar.com","g":2,"t":"2026-09-14T05:48:30Z","v":39},
      {"s":"leontp.bollar.com","g":2,"t":"2026-09-14T05:49:00Z","v":30},{"s":"leontp.bollar.com","g":2,"t":"2026-09-14T05:49:30Z","v":44},{"s":"leontp.bollar.com","g":2,"t":"2026-09-14T05:50:00Z","v":43},{"s":"leontp.bollar.com","g":2,"t":"2026-09-14T05:50:30Z","v":36},
      {"s":"leontp.bollar.com","g":2,"t":"2026-09-14T05:51:00Z","v":37},{"s":"leontp.bollar.com","g":2,"t":"2026-09-14T05:51:30Z","v":28},{"s":"leontp.bollar.com","g":2,"t":"2026-09-14T05:52:00Z","v":28},{"s":"leontp.bollar.com","g":2,"t":"2026-09-14T05:52:30Z","v":41},
      {"s":"leontp.bollar.com","g":2,"t":"2026-09-14T05:53:00Z","v":58},{"s":"leontp.bollar.com","g":2,"t":"2026-09-14T05:53:30Z","v":35},{"s":"leontp.bollar.com","g":2,"t":"2026-09-14T05:54:00Z","v":32},{"s":"leontp.bollar.com","g":2,"t":"2026-09-14T05:54:30Z","v":45},
      {"s":"leontp.bollar.com","g":2,"t":"2026-09-14T05:55:00Z","v":40},{"s":"leontp.bollar.com","g":2,"t":"2026-09-14T05:55:30Z","v":38},{"s":"leontp.bollar.com","g":2,"t":"2026-09-14T05:56:00Z","v":35},{"s":"leontp.bollar.com","g":2,"t":"2026-09-14T05:56:30Z","v":30},
      {"s":"leontp.bollar.com","g":2,"t":"2026-09-14T05:57:00Z","v":44},{"s":"leontp.bollar.com","g":2,"t":"2026-09-14T05:57:30Z","v":47},{"s":"leontp.bollar.com","g":2,"t":"2026-09-14T05:58:00Z","v":29},{"s":"leontp.bollar.com","g":2,"t":"2026-09-14T05:58:30Z","v":36},
      {"s":"leontp.bollar.com","g":2,"t":"2026-09-14T05:59:00Z","v":49},{"s":"leontp.bollar.com","g":2,"t":"2026-09-14T05:59:30Z","v":41},{"s":"leontp.bollar.com","g":2,"t":"2026-09-14T06:00:00Z","v":38},{"s":"leontp.bollar.com","g":2,"t":"2026-09-14T06:00:30Z","v":32},
      {"s":"leontp.bollar.com","g":2,"t":"2026-09-14T06:01:00Z","v":33},{"s":"leontp.bollar.com","g":2,"t":"2026-09-14T06:01:30Z","v":46},{"s":"leontp.bollar.com","g":2,"t":"2026-09-14T06:02:00Z","v":47},{"s":"leontp.bollar.com","g":2,"t":"2026-09-14T06:02:30Z","v":39},
      {"s":"leontp.bollar.com","g":2,"t":"2026-09-14T06:03:00Z","v":41},{"s":"leontp.bollar.com","g":2,"t":"2026-09-14T06:03:30Z","v":35},{"s":"leontp.bollar.com","g":2,"t":"2026-09-14T06:04:00Z","v":30},{"s":"leontp.bollar.com","g":2,"t":"2026-09-14T06:04:30Z","v":44},
      {"s":"leontp.bollar.com","g":2,"t":"2026-09-14T06:05:00Z","v":53},{"s":"leontp.bollar.com","g":2,"t":"2026-09-14T06:05:30Z","v":37},{"s":"leontp.bollar.com","g":2,"t":"2026-09-14T06:06:00Z","v":36},{"s":"leontp.bollar.com","g":2,"t":"2026-09-14T06:06:30Z","v":48},
      {"s":"leontp.bollar.com","g":2,"t":"2026-09-14T06:07:00Z","v":45},{"s":"leontp.bollar.com","g":2,"t":"2026-09-14T06:07:30Z","v":41},{"s":"leontp.bollar.com","g":2,"t":"2026-09-14T06:08:00Z","v":39},{"s":"leontp.bollar.com","g":2,"t":"2026-09-14T06:08:30Z","v":33},
      {"s":"leontp.bollar.com","g":2,"t":"2026-09-14T06:09:00Z","v":52},{"s":"leontp.bollar.com","g":2,"t":"2026-09-14T06:09:30Z","v":43},{"s":"leontp.bollar.com","g":2,"t":"2026-09-14T06:10:00Z","v":34},{"s":"leontp.bollar.com","g":2,"t":"2026-09-14T06:10:30Z","v":47},
      {"s":"leontp.bollar.com","g":2,"t":"2026-09-14T06:11:00Z","v":48},{"s":"leontp.bollar.com","g":2,"t":"2026-09-14T06:11:30Z","v":38},{"s":"leontp.bollar.com","g":2,"t":"2026-09-14T06:12:00Z","v":23},{"s":"leontp.bollar.com","g":2,"t":"2026-09-14T06:12:30Z","v":42},
      {"s":"leontp.bollar.com","g":2,"t":"2026-09-14T06:13:00Z","v":42},{"s":"leontp.bollar.com","g":2,"t":"2026-09-14T06:13:30Z","v":36},{"s":"leontp.bollar.com","g":2,"t":"2026-09-14T06:14:00Z","v":50},{"s":"leontp.bollar.com","g":2,"t":"2026-09-14T06:14:30Z","v":45},
      {"s":"leontp.bollar.com","g":2,"t":"2026-09-14T06:15:00Z","v":37},{"s":"leontp.bollar.com","g":2,"t":"2026-09-14T06:15:30Z","v":49},{"s":"leontp.bollar.com","g":2,"t":"2026-09-14T06:16:00Z","v":46},{"s":"leontp.bollar.com","g":2,"t":"2026-09-14T06:16:30Z","v":34},
      {"s":"leontp.bollar.com","g":2,"t":"2026-09-14T06:17:00Z","v":31},{"s":"leontp.bollar.com","g":2,"t":"2026-09-14T06:17:30Z","v":43},{"s":"leontp.bollar.com","g":2,"t":"2026-09-14T06:18:00Z","v":53},{"s":"leontp.bollar.com","g":2,"t":"2026-09-14T06:18:30Z","v":39},
      {"s":"leontp.bollar.com","g":2,"t":"2026-09-14T06:19:00Z","v":40},{"s":"leontp.bollar.com","g":2,"t":"2026-09-14T06:19:30Z","v":47},{"s":"leontp.bollar.com","g":2,"t":"2026-09-14T06:20:00Z","v":44},{"s":"leontp.bollar.com","g":2,"t":"2026-09-14T06:20:30Z","v":35},
      {"s":"leontp.bollar.com","g":2,"t":"2026-09-14T06:21:00Z","v":35},{"s":"leontp.bollar.com","g":2,"t":"2026-09-14T06:21:30Z","v":50},{"s":"leontp.bollar.com","g":2,"t":"2026-09-14T06:22:00Z","v":51},{"s":"leontp.bollar.com","g":2,"t":"2026-09-14T06:22:30Z","v":41},
      {"s":"leontp.bollar.com","g":2,"t":"2026-09-14T06:23:00Z","v":38},{"s":"leontp.bollar.com","g":2,"t":"2026-09-14T06:23:30Z","v":46},{"s":"leontp.bollar.com","g":2,"t":"2026-09-14T06:24:00Z","v":47},{"s":"leontp.bollar.com","g":2,"t":"2026-09-14T06:24:30Z","v":36},
      {"s":"leontp.bollar.com","g":2,"t":"2026-09-14T06:25:00Z","v":33},{"s":"leontp.bollar.com","g":2,"t":"2026-09-14T06:25:30Z","v":44},{"s":"leontp.bollar.com","g":2,"t":"2026-09-14T06:26:00Z","v":52},{"s":"leontp.bollar.com","g":2,"t":"2026-09-14T06:26:30Z","v":40},
      {"s":"leontp.bollar.com","g":2,"t":"2026-09-14T06:27:00Z","v":41},{"s":"leontp.bollar.com","g":2,"t":"2026-09-14T06:27:30Z","v":48},{"s":"leontp.bollar.com","g":2,"t":"2026-09-14T06:28:00Z","v":36},{"s":"leontp.bollar.com","g":2,"t":"2026-09-14T06:28:30Z","v":34},
      {"s":"leontp.bollar.com","g":2,"t":"2026-09-14T06:29:00Z","v":54},{"s":"leontp.bollar.com","g":2,"t":"2026-09-14T06:29:30Z","v":45},{"s":"leontp.bollar.com","g":2,"t":"2026-09-14T06:30:00Z","v":43},{"s":"leontp.bollar.com","g":2,"t":"2026-09-14T06:30:30Z","v":39},
      {"s":"leontp.bollar.com","g":2,"t":"2026-09-14T06:31:00Z","v":32},{"s":"leontp.bollar.com","g":2,"t":"2026-09-14T06:31:30Z","v":50},{"s":"leontp.bollar.com","g":2,"t":"2026-09-14T06:32:00Z","v":49},{"s":"leontp.bollar.com","g":2,"t":"2026-09-14T06:32:30Z","v":42},
      {"s":"leontp.bollar.com","g":2,"t":"2026-09-14T06:33:00Z","v":39},{"s":"leontp.bollar.com","g":2,"t":"2026-09-14T06:33:30Z","v":37},{"s":"leontp.bollar.com","g":2,"t":"2026-09-14T06:34:00Z","v":53},{"s":"leontp.bollar.com","g":2,"t":"2026-09-14T06:34:30Z","v":46},
      {"s":"leontp.bollar.com","g":2,"t":"2026-09-14T06:35:00Z","v":45},{"s":"leontp.bollar.com","g":2,"t":"2026-09-14T06:35:30Z","v":40},{"s":"leontp.bollar.com","g":2,"t":"2026-09-14T06:36:00Z","v":34},{"s":"leontp.bollar.com","g":2,"t":"2026-09-14T06:36:30Z","v":49},
      {"s":"leontp.bollar.com","g":2,"t":"2026-09-14T06:37:00Z","v":50},{"s":"leontp.bollar.com","g":2,"t":"2026-09-14T06:37:30Z","v":38},{"s":"leontp.bollar.com","g":2,"t":"2026-09-14T06:38:00Z","v":37},{"s":"leontp.bollar.com","g":2,"t":"2026-09-14T06:38:30Z","v":44},
      {"s":"leontp.bollar.com","g":2,"t":"2026-09-14T06:39:00Z","v":46},{"s":"leontp.bollar.com","g":2,"t":"2026-09-14T06:39:30Z","v":35},{"s":"leontp.bollar.com","g":2,"t":"2026-09-14T06:40:00Z","v":31},{"s":"leontp.bollar.com","g":2,"t":"2026-09-14T06:40:30Z","v":47},
      {"s":"leontp.bollar.com","g":2,"t":"2026-09-14T06:41:00Z","v":53},{"s":"leontp.bollar.com","g":2,"t":"2026-09-14T06:41:30Z","v":41},{"s":"leontp.bollar.com","g":2,"t":"2026-09-14T06:42:00Z","v":23},{"s":"leontp.bollar.com","g":2,"t":"2026-09-14T06:42:30Z","v":38},
      {"s":"leontp.bollar.com","g":2,"t":"2026-09-14T06:43:00Z","v":44},{"s":"leontp.bollar.com","g":2,"t":"2026-09-14T06:43:30Z","v":48},{"s":"leontp.bollar.com","g":2,"t":"2026-09-14T06:44:00Z","v":39},{"s":"leontp.bollar.com","g":2,"t":"2026-09-14T06:44:30Z","v":33},
      {"s":"leontp.bollar.com","g":2,"t":"2026-09-14T06:45:00Z","v":48},{"s":"leontp.bollar.com","g":2,"t":"2026-09-14T06:45:30Z","v":43},{"s":"leontp.bollar.com","g":2,"t":"2026-09-14T06:46:00Z","v":33},{"s":"leontp.bollar.com","g":2,"t":"2026-09-14T06:46:30Z","v":37},
      {"s":"leontp.bollar.com","g":2,"t":"2026-09-14T06:47:00Z","v":42},{"s":"leontp.bollar.com","g":2,"t":"2026-09-14T06:47:30Z","v":46},{"s":"leontp.bollar.com","g":2,"t":"2026-09-14T06:48:00Z","v":51},{"s":"leontp.bollar.com","g":2,"t":"2026-09-14T06:48:30Z","v":36},
      {"s":"leontp.bollar.com","g":2,"t":"2026-09-14T06:49:00Z","v":36},{"s":"leontp.bollar.com","g":2,"t":"2026-09-14T06:49:30Z","v":44},{"s":"leontp.bollar.com","g":2,"t":"2026-09-14T06:50:00Z","v":29},{"s":"leontp.bollar.com","g":2,"t":"2026-09-14T06:50:30Z","v":39},
      {"s":"leontp.bollar.com","g":2,"t":"2026-09-14T06:51:00Z","v":45},{"s":"leontp.bollar.com","g":2,"t":"2026-09-14T06:51:30Z","v":34},{"s":"leontp.bollar.com","g":2,"t":"2026-09-14T06:52:00Z","v":40},{"s":"leontp.bollar.com","g":2,"t":"2026-09-14T06:52:30Z","v":47},
      {"s":"leontp.bollar.com","g":2,"t":"2026-09-14T06:53:00Z","v":34},{"s":"leontp.bollar.com","g":2,"t":"2026-09-14T06:53:30Z","v":31},{"s":"leontp.bollar.com","g":2,"t":"2026-09-14T06:54:00Z","v":47},{"s":"leontp.bollar.com","g":2,"t":"2026-09-14T06:54:30Z","v":42},
      {"s":"leontp.bollar.com","g":2,"t":"2026-09-14T06:55:00Z","v":25},{"s":"leontp.bollar.com","g":2,"t":"2026-09-14T06:55:30Z","v":36},{"s":"leontp.bollar.com","g":2,"t":"2026-09-14T06:56:00Z","v":38},{"s":"leontp.bollar.com","g":2,"t":"2026-09-14T06:56:30Z","v":45},
      {"s":"leontp.bollar.com","g":2,"t":"2026-09-14T06:57:00Z","v":43},{"s":"leontp.bollar.com","g":2,"t":"2026-09-14T06:57:30Z","v":33},{"s":"leontp.bollar.com","g":2,"t":"2026-09-14T06:58:00Z","v":31},{"s":"leontp.bollar.com","g":2,"t":"2026-09-14T06:58:30Z","v":40},
      {"s":"leontp.bollar.com","g":2,"t":"2026-09-14T06:59:00Z","v":46},{"s":"leontp.bollar.com","g":2,"t":"2026-09-14T06:59:30Z","v":35},{"s":"leontp.bollar.com","g":2,"t":"2026-09-14T07:00:00Z","v":30}
    ]
  },
  "layer": [
    {
      "mark": {"type": "line", "strokeWidth": 1, "clip": true},
      "encoding": {
        "x": {
          "field": "t", "type": "temporal",
          "scale": {"type": "utc", "domain": [
            {"year": 2026, "month": 9, "date": 13, "hours": 19, "minutes": 2, "utc": true},
            {"year": 2026, "month": 9, "date": 14, "hours": 7, "minutes": 0, "utc": true}
          ]},
          "axis": {
            "values": [
              {"year": 2026, "month": 9, "date": 13, "hours": 20, "utc": true},
              {"year": 2026, "month": 9, "date": 13, "hours": 21, "utc": true},
              {"year": 2026, "month": 9, "date": 13, "hours": 22, "utc": true},
              {"year": 2026, "month": 9, "date": 13, "hours": 23, "utc": true},
              {"year": 2026, "month": 9, "date": 14, "hours": 0, "utc": true},
              {"year": 2026, "month": 9, "date": 14, "hours": 1, "utc": true},
              {"year": 2026, "month": 9, "date": 14, "hours": 2, "utc": true},
              {"year": 2026, "month": 9, "date": 14, "hours": 3, "utc": true},
              {"year": 2026, "month": 9, "date": 14, "hours": 4, "utc": true},
              {"year": 2026, "month": 9, "date": 14, "hours": 5, "utc": true},
              {"year": 2026, "month": 9, "date": 14, "hours": 6, "utc": true},
              {"year": 2026, "month": 9, "date": 14, "hours": 7, "utc": true}
            ],
            "labelExpr": "[utcFormat(datum.value, '%d %b'), utcFormat(datum.value, '%H:%MZ')]",
            "labelLineHeight": 18.5,
            "labelBaseline": "top",
            "labelAlign": "center",
            "labelOverlap": false,
            "labelFlush": false,
            "labelPadding": 20,
            "tickSize": -8,
            "grid": true,
            "title": "Time UTC",
            "titlePadding": 13
          }
        },
        "y": {
          "field": "v", "type": "quantitative",
          "scale": {"domain": [7.4, 278.2], "nice": false, "zero": false},
          "axis": {
            "values": [50, 100, 150, 200, 250],
            "labelExpr": "datum.value + ' µs'",
            "tickSize": -9,
            "labelPadding": 19,
            "grid": true,
            "title": null
          }
        },
        "detail": {"field": "g", "type": "nominal"},
        "color": {
          "field": "s", "type": "nominal",
          "scale": {"domain": ["50th percentile", "leontp.bollar.com"], "range": ["#9400d3", "#009e73"]},
          "legend": {
            "title": null,
            "orient": "none",
            "legendX": 1086,
            "legendY": 9,
            "symbolType": "M-3,0L3,0",
            "symbolSize": 256,
            "symbolStrokeWidth": 1.5,
            "labelAlign": "right",
            "labelOffset": -43.5,
            "labelFontSize": 15.5,
            "labelColor": "black",
            "rowPadding": 2
          }
        }
      }
    },
    {
      "data": {
        "values": [
          {"t": "2026-09-13T20:00:00Z"}, {"t": "2026-09-13T21:00:00Z"}, {"t": "2026-09-13T22:00:00Z"},
          {"t": "2026-09-13T23:00:00Z"}, {"t": "2026-09-14T00:00:00Z"}, {"t": "2026-09-14T01:00:00Z"},
          {"t": "2026-09-14T02:00:00Z"}, {"t": "2026-09-14T03:00:00Z"}, {"t": "2026-09-14T04:00:00Z"},
          {"t": "2026-09-14T05:00:00Z"}, {"t": "2026-09-14T06:00:00Z"}, {"t": "2026-09-14T07:00:00Z"}
        ]
      },
      "mark": {"type": "tick", "orient": "vertical", "color": "black", "size": 16, "thickness": 1, "clip": true},
      "encoding": {
        "x": {"field": "t", "type": "temporal"},
        "y": {"datum": 278.2, "type": "quantitative"}
      }
    }
  ],
  "config": {
    "font": "DejaVu Sans",
    "view": {"stroke": "black", "strokeWidth": 1},
    "axis": {
      "domain": false,
      "tickColor": "black",
      "tickWidth": 1,
      "gridColor": "#a8a8a8",
      "gridDash": [1, 4],
      "gridWidth": 1,
      "labelFont": "DejaVu Sans",
      "labelFontSize": 15.5,
      "labelColor": "black",
      "titleFont": "DejaVu Sans",
      "titleFontSize": 15.5,
      "titleFontWeight": "normal",
      "titleColor": "black"
    }
  }
}
